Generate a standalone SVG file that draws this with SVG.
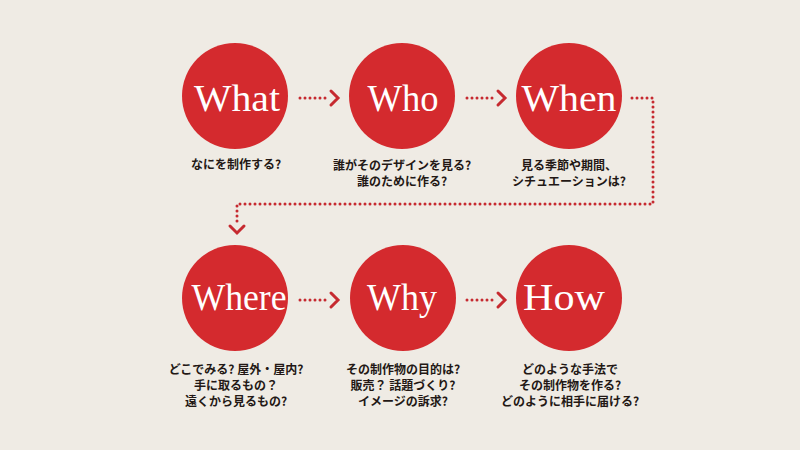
<svg xmlns="http://www.w3.org/2000/svg" width="800" height="450" viewBox="0 0 800 450">
<style>
.c{fill:#d42a2e}
.t{font-family:"Liberation Serif","DejaVu Serif",serif;font-size:38px;fill:#ffffff;text-anchor:middle}
.j{font-family:"Noto Sans CJK JP","Noto Sans",sans-serif;font-size:12px;font-weight:bold;fill:#231815;text-anchor:middle}
.d{fill:none;stroke:#c62a30;stroke-width:3;stroke-linecap:round;stroke-dasharray:0 5}
.a{fill:none;stroke:#c62a30;stroke-width:3;stroke-linecap:round;stroke-linejoin:miter}
</style>
<rect width="800" height="450" fill="#efebe4"/>
<g id="connectors">
<path class="d" d="M300 98H326"/><polyline class="a" points="331,91 338,98 331,105"/>
<path class="d" d="M467 98H493"/><polyline class="a" points="498,91 505,98 498,105"/>
<path class="d" d="M632 98H653V204H237V222"/><polyline class="a" points="230,226 237,233 244,226"/>
<path class="d" d="M300 300H326"/><polyline class="a" points="331,293 338,300 331,307"/>
<path class="d" d="M467 300H493"/><polyline class="a" points="498,293 505,300 498,307"/>
</g>
<g id="what"><circle class="c" cx="235" cy="96" r="53"/><text class="t" x="237" y="111" textLength="86" lengthAdjust="spacingAndGlyphs">What</text>
<text class="j" x="236" y="169">なにを制作する?</text></g>
<g id="who"><circle class="c" cx="402" cy="96" r="53"/><text class="t" x="403" y="111" textLength="71" lengthAdjust="spacingAndGlyphs">Who</text>
<text class="j" x="402" y="170">誰がそのデザインを見る?</text><text class="j" x="402" y="186">誰のために作る?</text></g>
<g id="when"><circle class="c" cx="569" cy="96" r="53"/><text class="t" x="569" y="111" textLength="95" lengthAdjust="spacingAndGlyphs">When</text>
<text class="j" x="569" y="170">見る季節や期間、</text><text class="j" x="569" y="186">シチュエーションは?</text></g>
<g id="where"><circle class="c" cx="235" cy="298" r="53"/><text class="t" x="239" y="310" textLength="95" lengthAdjust="spacingAndGlyphs">Where</text>
<text class="j" x="236" y="374">どこでみる? 屋外・屋内?</text><text class="j" x="236" y="390">手に取るもの？</text><text class="j" x="236" y="406">遠くから見るもの?</text></g>
<g id="why"><circle class="c" cx="403" cy="298" r="53"/><text class="t" x="402" y="310" textLength="70" lengthAdjust="spacingAndGlyphs">Why</text>
<text class="j" x="403" y="374">その制作物の目的は?</text><text class="j" x="403" y="390">販売？ 話題づくり?</text><text class="j" x="403" y="406">イメージの訴求?</text></g>
<g id="how"><circle class="c" cx="569" cy="298" r="53"/><text class="t" x="564" y="310" textLength="82" lengthAdjust="spacingAndGlyphs">How</text>
<text class="j" x="570" y="374">どのような手法で</text><text class="j" x="570" y="390">その制作物を作る?</text><text class="j" x="570" y="406">どのように相手に届ける?</text></g>
</svg>
